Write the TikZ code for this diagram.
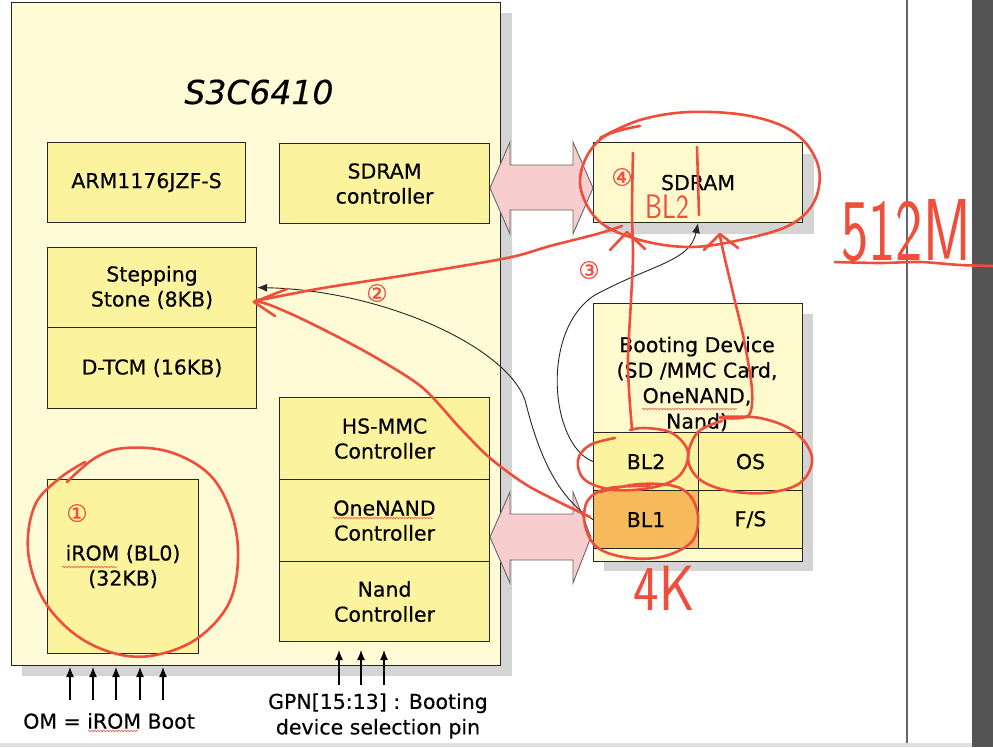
\documentclass[tikz,border=0pt]{standalone}
\usepackage{fontspec}
\setmainfont{DejaVu Sans}
\newfontfamily\vfont{DejaVu Sans}[FakeBold=0.35]
\usetikzlibrary{arrows.meta,decorations.pathmorphing}
\definecolor{chipfill}{RGB}{255,251,214}
\definecolor{boxfill}{RGB}{252,243,158}
\definecolor{palefill}{RGB}{255,250,205}
\definecolor{blonefill}{RGB}{247,186,90}
\definecolor{shadowc}{RGB}{212,212,212}
\definecolor{pinkfill}{RGB}{248,205,205}
\definecolor{redpen}{RGB}{240,78,60}
\begin{document}
\begin{tikzpicture}[x=1pt,y=-1pt,
  box/.style={draw=black!85,line width=1.1pt,fill=boxfill,inner sep=0pt,anchor=north west,align=center,font=\vfont\fontsize{20.5}{25}\selectfont},
  lbl/.style={align=center,font=\vfont\fontsize{20.5}{25.5}\selectfont,inner sep=0pt},
  num/.style={text=redpen,font=\vfont\fontsize{24}{24}\selectfont,inner sep=0pt},
  pen/.style={draw=redpen,line width=2.6pt,line cap=round,line join=round},
  thinarrow/.style={draw=black!85,line width=0.9pt,-{Latex[length=10pt,width=8pt]}},
  pin/.style={draw=black,line width=1.3pt,-{Latex[length=10pt,width=8pt]}},
  bigarrow/.style={fill=pinkfill,draw=black!60,line width=0.9pt},
  squig/.style={draw=redpen,line width=0.5pt,decorate,decoration={snake,amplitude=0.9pt,segment length=3pt}},
  hand/.style={text=redpen,font=\sffamily,inner sep=0pt}
]
\useasboundingbox (0,0) rectangle (993,747);
\fill[white] (0,0) rectangle (993,747);
% page frame
\fill[black!12] (0,743) rectangle (972,747);
\draw[black!60,line width=1.5pt] (907,0) -- (907,743);
\fill[black!67] (972,0) rectangle (993,747);

% chip
\fill[shadowc] (22,13) rectangle (512,676);
\node[box,fill=chipfill,minimum width=489pt,minimum height=663pt] (chip) at (11,2) {};
\node[font=\vfont\itshape\fontsize{33}{33}\selectfont,inner sep=0pt] (title) at (259,92) {S3C6410};

\node[box,minimum width=198pt,minimum height=80pt] (arm) at (47,142) {ARM1176JZF-S};
\node[box,minimum width=210pt,minimum height=80pt] (sdc) at (279,143) {SDRAM\\controller};
\node[box,minimum width=209pt,minimum height=80pt] (stone) at (47,247) {Stepping\\Stone (8KB)};
\node[box,minimum width=209pt,minimum height=81pt] (dtcm) at (47,327) {D-TCM (16KB)};
\node[box,minimum width=151pt,minimum height=174pt] (irom) at (47,479) {iROM (BL0)\\(32KB)};
\node[box,minimum width=210pt,minimum height=82pt] (hsmmc) at (279,397) {HS-MMC\\Controller};
\node[box,minimum width=210pt,minimum height=82pt] (onenand) at (279,479) {OneNAND\\Controller};
\node[box,minimum width=210pt,minimum height=80pt] (nand) at (279,561) {Nand\\Controller};

% SDRAM
\fill[shadowc] (605,154) rectangle (814,234);
\node[box,fill=palefill,minimum width=209pt,minimum height=80pt] (sdram) at (593,142) {SDRAM};

% booting device
\fill[shadowc] (604,314) rectangle (813,571);
\node[box,fill=palefill,minimum width=209pt,minimum height=129pt] (bdtop) at (593,303) {};
\node[lbl] (bdtext) at (697,384) {Booting Device\\(SD /MMC Card,\\OneNAND,\\Nand)};
\node[box,minimum width=105pt,minimum height=58pt] (bl2) at (593,432) {BL2};
\node[box,minimum width=104pt,minimum height=58pt] (os) at (698,432) {OS};
\node[box,fill=blonefill,minimum width=105pt,minimum height=58pt] (bl1) at (593,490) {BL1};
\node[box,minimum width=104pt,minimum height=58pt] (fs) at (698,490) {F/S};
\node[box,fill=palefill,minimum width=209pt,minimum height=13pt] (bdbot) at (593,548) {};

% big double arrows
\draw[bigarrow] (490,188) -- (510,142) -- (510,165) -- (573,165) -- (573,142) -- (593,188)
  -- (573,234) -- (573,210) -- (510,210) -- (510,234) -- cycle;
\draw[bigarrow] (490,537) -- (510,492) -- (510,514) -- (573,514) -- (573,492) -- (591,537)
  -- (573,583) -- (573,560) -- (510,560) -- (510,583) -- cycle;

% pins
\foreach \x in {70,93,116,140,163} {
  \coordinate (ps\x) at (\x,700); \coordinate (pe\x) at (\x,667);
  \draw[pin] (ps\x) -- (pe\x);
}
\foreach \x in {339,361,384} {
  \coordinate (gs\x) at (\x,685); \coordinate (ge\x) at (\x,650);
  \draw[pin] (gs\x) -- (ge\x);
}
\node[lbl] (omlbl) at (109,721) {OM = iROM Boot};
\node[lbl] (gpnlbl) at (378,716) {GPN[15:13] : Booting\\device selection pin};

% thin black curves
\draw[thinarrow] (bl1.west) .. controls (552,495) and (535,440) .. (525,400)
  .. controls (505,345) and (380,290) .. (stone.east);
\draw[thinarrow] (bl2.west) .. controls (550,445) and (540,330) .. (595,295)
  .. controls (650,265) and (690,262) .. (sdram.south);

% spell-check squiggles
\draw[squig] (62,567) -- (117,567);
\draw[squig] (333,518) -- (433,518);
\draw[squig] (88,731) -- (138,731);
\draw[squig] (642,409) -- (737,409);

% red circled numbers
\node[num] (n1) at (77,513) {①};
\node[num] (n2) at (377,293) {②};
\node[num] (n3) at (589,270) {③};
\node[num] (n4) at (622,177) {④};

% red hand annotations
\draw[pen] plot[smooth,tension=0.6] coordinates {(67,482) (95,458) (125,448) (170,452) (210,475) (232,515) (238,560) (228,605) (195,640) (150,656) (110,652) (72,632) (42,597) (28,550) (35,505) (60,478) (85,462)};
\draw[pen] plot[smooth,tension=0.6] coordinates {(600,138) (640,120) (690,112) (750,116) (795,133) (818,165) (815,200) (790,225) (740,240) (690,247) (640,240) (600,222) (581,190) (585,160) (605,136) (640,126)};
\draw[pen] plot[smooth,tension=0.6] coordinates {(630,430) (645,428) (672,433) (688,452) (680,475) (655,487) (615,490) (585,480) (578,460) (590,445) (615,438)};
\draw[pen] plot[smooth,tension=0.6] coordinates {(720,417) (760,418) (795,432) (812,458) (800,483) (765,493) (725,490) (698,478) (688,457) (698,432) (722,421)};
\draw[pen] plot[smooth,tension=0.6] coordinates {(600,492) (640,484) (680,488) (697,510) (693,540) (665,556) (630,558) (598,548) (585,525) (588,500) (610,488) (650,486)};
\draw[pen] plot[smooth,tension=0.5] coordinates {(632,430) (629,390) (628,357) (631,300) (633,257) (632,210) (633,153)};
\draw[pen] plot[smooth,tension=0.5] coordinates {(720,418) (748,416) (752,390) (744,340) (733,293) (724,255) (720,236)};
\draw[pen] (697,147) -- (699,215);
\draw[pen] (610,250) -- (627,232) -- (645,249);
\draw[pen] (704,250) -- (720,234) -- (738,248);
\draw[pen] plot[smooth,tension=0.5] coordinates {(622,226) (597,234) (550,246) (507,258) (407,275) (323,288) (255,301)};
\draw[pen] plot[smooth,tension=0.5] coordinates {(590,517) (530,487) (490,458) (460,428) (423,388) (380,360) (340,338) (300,318) (270,305) (255,301)};
\draw[pen] (287,289) -- (254,302) -- (275,316);
\draw[pen] plot[smooth,tension=0.5] coordinates {(835,262) (880,263) (920,262) (960,265) (993,266)};
\node[hand] (hbl) at (667,207) {\scalebox{0.8}[1]{\fontsize{34}{34}\selectfont BL2}};
\node[hand] (h512) at (906,231) {\scalebox{0.66}[1]{\fontsize{88}{88}\selectfont 512M}};
\node[hand] (h4k) at (664,588) {\scalebox{0.85}[1]{\fontsize{64}{64}\selectfont 4K}};
\end{tikzpicture}
\end{document}
